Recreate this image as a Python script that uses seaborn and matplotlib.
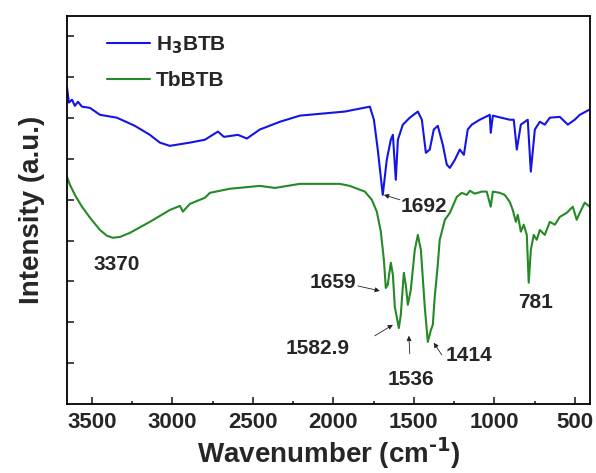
import matplotlib
matplotlib.use("Agg")
import matplotlib.pyplot as plt
import numpy as np
import pandas as pd
import seaborn as sns

# FTIR spectra (wavenumber in cm-1, intensity in a.u.)
h3btb_wn = [3655, 3643, 3624, 3606, 3587, 3562, 3512, 3450, 3345, 3233, 3140, 3078,
            3016, 2891, 2798, 2717, 2680, 2593, 2537, 2457, 2332, 2208, 1929, 1773,
            1748, 1724, 1693, 1668, 1643, 1630, 1612, 1599, 1568, 1525, 1475, 1450,
            1425, 1401, 1376, 1351, 1320, 1295, 1276, 1245, 1214, 1189, 1165, 1140,
            1090, 1028, 1022, 1009, 904, 879, 860, 835, 792, 773, 748, 717, 686,
            655, 593, 543, 500, 469, 407]
h3btb_int = [77.5, 73.8, 74.5, 73.0, 74.0, 72.8, 72.5, 70.8, 70.1, 68.1, 65.9, 64.0,
             63.2, 64.0, 64.7, 66.7, 65.4, 65.9, 65.0, 67.2, 69.1, 70.6, 71.6, 72.8,
             69.6, 62.3, 51.2, 59.8, 64.7, 65.9, 54.9, 64.7, 68.4, 70.1, 71.6, 69.6,
             61.5, 62.3, 67.2, 68.1, 63.5, 58.6, 57.8, 59.8, 62.3, 61.0, 67.2, 68.4,
             69.6, 70.8, 66.4, 70.6, 69.6, 69.6, 62.3, 68.4, 69.6, 56.9, 67.2, 69.1, 68.4,
             70.1, 70.3, 68.4, 69.6, 70.8, 72.1]

tbbtb_wn = [3655, 3637, 3606, 3562, 3512, 3450, 3407, 3370, 3326, 3264, 3140, 3016,
            2953, 2935, 2891, 2798, 2767, 2643, 2457, 2363, 2208, 1960, 1898, 1804,
            1761, 1730, 1705, 1686, 1674, 1662, 1643, 1630, 1618, 1593, 1581, 1562,
            1550, 1537, 1519, 1494, 1475, 1456, 1432, 1413, 1394, 1382, 1370, 1351,
            1339, 1307, 1276, 1233, 1202, 1171, 1152, 1121, 1078, 1047, 1022, 1009,
            966, 935, 904, 885, 866, 854, 835, 817, 798, 786, 773, 755, 736, 717,
            686, 655, 624, 593, 550, 512, 488, 469, 438, 407]
tbbtb_int = [55.6, 53.7, 51.2, 48.3, 45.6, 42.6, 41.2, 40.7, 40.9, 41.9, 44.6, 47.5,
             48.5, 47.1, 49.0, 50.5, 51.7, 52.7, 53.4, 52.9, 53.9, 53.9, 53.4, 52.0,
             50.0, 47.1, 42.2, 35.3, 28.4, 29.2, 34.6, 31.6, 23.8, 18.6, 21.8, 32.1,
             29.2, 24.3, 27.9, 37.7, 41.4, 37.7, 23.8, 15.2, 18.1, 19.4, 26.2, 34.1,
             40.2, 45.1, 46.8, 50.7, 51.7, 51.2, 52.2, 51.5, 52.0, 52.0, 48.3, 52.0,
             51.7, 51.2, 49.5, 47.5, 44.6, 46.3, 42.2, 43.9, 41.4, 29.7, 37.7, 41.4, 40.2, 42.6,
             41.4, 44.6, 43.9, 45.8, 46.8, 48.3, 45.1, 46.8, 49.3, 48.3]

# peak labels: text, text position, arrow start and tip (None = no arrow)
peak_text = ["1692", "3370", "1659", "1582.9", "1536", "1414", "781"]
peak_text_pos = [(1438, 48.3), (3345, 34.1), (2003, 29.7), (2096, 13.7),
                 (1519, 6.1), (1158, 11.8), (742, 24.8)]
peak_arrow_from = [(1587, 50.0), None, (1848, 28.9), (1742, 16.7),
                   (1525, 12.3), (1326, 12.0), None]
peak_arrow_to = [(1686, 51.2), None, (1711, 27.7), (1630, 19.4),
                 (1531, 16.7), (1376, 15.0), None]

df = pd.concat([
    pd.DataFrame({"wn": h3btb_wn, "I": h3btb_int, "sample": "H$_3$BTB"}),
    pd.DataFrame({"wn": tbbtb_wn, "I": tbbtb_int, "sample": "TbBTB"}),
])

sns.set_style("ticks")
plt.rcParams['font.family'] = ['Liberation Sans', 'DejaVu Sans']
plt.rcParams['font.weight'] = 'bold'
plt.rcParams['mathtext.default'] = 'bf'

fig = plt.figure(figsize=(5.96, 4.73), dpi=100)
ax = fig.add_axes([0.1124, 0.1459, 0.8776, 0.8203])

sns.lineplot(data=df, x="wn", y="I", hue="sample", estimator=None, sort=False,
             palette=["#1414e6", "#258a25"], linewidth=1.5, ax=ax)

for t, pos, a0, a1 in zip(peak_text, peak_text_pos, peak_arrow_from, peak_arrow_to):
    ax.text(pos[0], pos[1], t, ha="center", va="center", fontsize=15, fontweight="bold")
    if a0 is not None:
        ax.annotate("", xy=a1, xytext=a0,
                    arrowprops=dict(arrowstyle="-|>", color="#222222", lw=0.6,
                                    mutation_scale=7, shrinkA=0, shrinkB=0))

ax.set_xlim(3655, 405)
ax.set_ylim(0, 95)
ax.set_xticks([3500, 3000, 2500, 2000, 1500, 1000, 500])
ax.set_xticks([3250, 2750, 2250, 1750, 1250, 750], minor=True)
ax.set_yticks(np.arange(10, 91, 10))
ax.set_yticklabels([])
ax.tick_params(axis="both", which="both", direction="in", width=1.2)
ax.tick_params(axis="x", which="major", length=5, labelsize=16, pad=6)
ax.tick_params(axis="x", which="minor", length=2.5)
ax.tick_params(axis="y", length=5)
for lbl in ax.get_xticklabels():
    lbl.set_fontweight("bold")
for s in ax.spines.values():
    s.set_linewidth(1.3)
    s.set_color("black")

ax.set_xlabel(r"Wavenumber (cm$^{\text{-1}}$)", fontsize=20, fontweight="bold", labelpad=1)
ax.set_ylabel("Intensity (a.u.)", fontsize=20, fontweight="bold", labelpad=12)

leg = ax.legend(loc="upper left", bbox_to_anchor=(0.04, 1.0), frameon=False,
                fontsize=15, handlelength=2.1, labelspacing=0.7, handletextpad=0.25)
for t in leg.get_texts():
    t.set_fontweight("bold")

fig.savefig("out.png", dpi=100)
